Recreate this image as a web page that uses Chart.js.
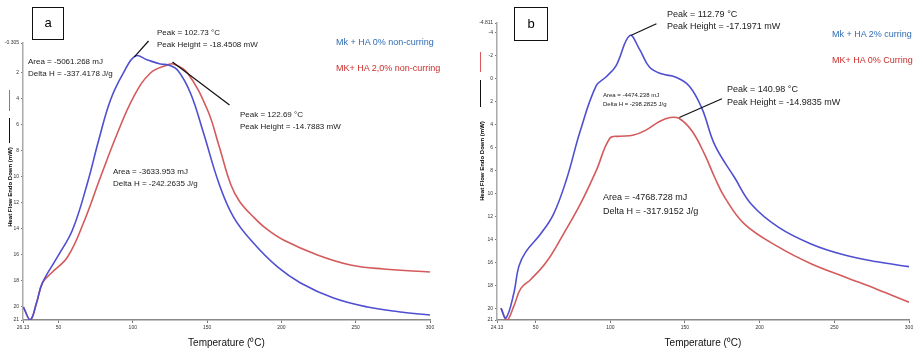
<!DOCTYPE html>
<html>
<head>
<meta charset="utf-8">
<script src="https://cdn.jsdelivr.net/npm/chart.js@4.4.0/dist/chart.umd.min.js"></script>
<style>
  body { margin: 0; background: #fff; width: 922px; height: 356px; overflow: hidden; font-family: "Liberation Sans", Arial, sans-serif; }
  .panel { position: absolute; top: 0; height: 356px; }
  .txt { position: absolute; white-space: nowrap; line-height: 1; color: #1a1a1a; }
  .box { position: absolute; border: 1px solid #111; font-size: 13px; text-align: center; }
  .ytitle { position: absolute; font-size: 6px; font-weight: bold; white-space: nowrap; transform: rotate(-90deg); transform-origin: center; }
  .mark { position: absolute; width: 1px; }
</style>
</head>
<body>
<div class="panel" style="left:0;width:460px"><canvas id="chartA"></canvas></div>
<div class="panel" style="left:460px;width:462px"><canvas id="chartB"></canvas></div>

<!-- panel a texts -->
<div class="box" style="left:32px;top:7px;width:30px;height:31px;line-height:30px">a</div>
<div class="mark" style="left:9px;top:90px;height:21px;background:#d9575a"></div>
<div class="mark" style="left:9px;top:118px;height:25px;background:#111"></div>
<div class="ytitle" style="left:-30px;top:184px;width:80px;text-align:center">Heat Flow Endo Down (mW)</div>
<div class="txt" style="left:157px;top:29px;font-size:8px">Peak = 102.73 °C</div>
<div class="txt" style="left:157px;top:41px;font-size:8px">Peak Height = -18.4508 mW</div>
<div class="txt" style="left:28px;top:58px;font-size:8px">Area = -5061.268 mJ</div>
<div class="txt" style="left:28px;top:70px;font-size:8px">Delta H = -337.4178 J/g</div>
<div class="txt" style="left:336px;top:38px;font-size:9px;color:#2e6db4">Mk + HA 0% non-curring</div>
<div class="txt" style="left:336px;top:64px;font-size:9px;color:#c9302c">MK+ HA 2,0% non-curring</div>
<div class="txt" style="left:240px;top:111px;font-size:8px">Peak = 122.69 °C</div>
<div class="txt" style="left:240px;top:123px;font-size:8px">Peak Height = -14.7883 mW</div>
<div class="txt" style="left:113px;top:168px;font-size:8px">Area = -3633.953 mJ</div>
<div class="txt" style="left:113px;top:180px;font-size:8px">Delta H = -242.2635 J/g</div>

<!-- panel b texts -->
<div class="box" style="left:514px;top:7px;width:32px;height:32px;line-height:31px">b</div>
<div class="mark" style="left:480px;top:52px;height:20px;background:#d9575a"></div>
<div class="mark" style="left:480px;top:80px;height:27px;background:#111"></div>
<div class="ytitle" style="left:442px;top:158px;width:80px;text-align:center">Heat Flow Endo Down (mW)</div>
<div class="txt" style="left:667px;top:10px;font-size:9px">Peak = 112.79 °C</div>
<div class="txt" style="left:667px;top:22px;font-size:9px">Peak Height = -17.1971 mW</div>
<div class="txt" style="left:832px;top:30px;font-size:9px;color:#2e6db4">Mk + HA 2% curring</div>
<div class="txt" style="left:832px;top:56px;font-size:9px;color:#c9302c">MK+ HA 0% Curring</div>
<div class="txt" style="left:603px;top:92px;font-size:6px">Area = -4474.238 mJ</div>
<div class="txt" style="left:603px;top:101px;font-size:6px">Delta H = -298.2825 J/g</div>
<div class="txt" style="left:727px;top:85px;font-size:9px">Peak = 140.98 °C</div>
<div class="txt" style="left:727px;top:98px;font-size:9px">Peak Height = -14.9835 mW</div>
<div class="txt" style="left:603px;top:193px;font-size:9px">Area = -4768.728 mJ</div>
<div class="txt" style="left:603px;top:207px;font-size:9px">Delta H = -317.9152 J/g</div>

<script>
// panel a: non-curring
const aBlueT = [26.4, 31.0, 35.2, 39.2, 49.3, 59.4, 69.5, 77.0, 85.0, 93.7, 101.8, 109.9, 118.6, 124.0, 130.1, 138.8, 147.6, 158.0, 167.8, 181.2, 197.4, 212.9, 235.1, 258.0, 280.1, 300];
const aBlueV = [20.0, 21.0, 19.7, 18.15, 16.15, 14.08, 10.46, 7.2, 4.08, 2.0, 0.69, 1.0, 1.31, 1.38, 1.77, 3.54, 6.62, 10.5, 13.08, 15.08, 16.92, 18.15, 19.31, 20.0, 20.38, 20.62];
const aRedT = [26.4, 31.0, 35.2, 39.2, 45.0, 56.1, 66.8, 78.3, 89.7, 100.5, 111.9, 123.4, 127.4, 136.8, 150.3, 158.0, 166.0, 172.0, 181.2, 190.0, 201.4, 224.3, 246.5, 268.7, 300];
const aRedV = [20.0, 21.0, 19.7, 18.15, 17.4, 16.15, 13.54, 10.0, 6.62, 3.85, 2.0, 1.38, 1.31, 2.0, 4.85, 7.6, 10.6, 11.9, 13.08, 14.0, 14.85, 16.0, 16.77, 17.08, 17.31];

// panel b: curring
const bBlueT = [26.8, 30.1, 35.4, 38.7, 43.4, 53.3, 61.9, 70.6, 79.8, 90.5, 97.1, 103.7, 113.0, 119.6, 126.3, 134.9, 143.5, 152.8, 161.4, 170.0, 183.3, 194.6, 212.5, 234.4, 256.2, 278.8, 300];
const bBlueV = [19.97, 20.83, 18.68, 16.36, 15.08, 13.53, 11.82, 8.81, 4.6, 0.66, -0.12, -1.06, -3.72, -2.52, -0.97, -0.37, -0.12, 0.66, 2.63, 5.81, 8.64, 10.96, 12.93, 14.39, 15.33, 15.94, 16.36];
const bRedT = [26.8, 30.8, 35.4, 40.1, 46.7, 57.3, 68.6, 79.8, 90.5, 99.7, 106.4, 115.0, 123.6, 132.9, 140.2, 146.2, 154.8, 163.4, 170.0, 176.7, 189.9, 212.5, 234.4, 256.2, 278.8, 300];
const bRedV = [19.97, 21.0, 19.8, 18.25, 17.48, 15.94, 13.53, 10.96, 8.04, 5.21, 5.03, 4.95, 4.52, 3.75, 3.40, 3.49, 4.6, 6.67, 8.64, 10.36, 12.67, 14.65, 16.11, 17.22, 18.34, 19.45];

// axis ticks
const aXTicks = [26.13, 50, 100, 150, 200, 250, 300];
const aYTicks = [-0.305, 2, 4, 6, 8, 10, 12, 14, 16, 18, 20, 21];
const bXTicks = [24.13, 50, 100, 150, 200, 250, 300];
const bYTicks = [-4.811, -4, -2, 0, 2, 4, 6, 8, 10, 12, 14, 16, 18, 20, 21];

// peak leader lines, in data units [T, value]
const aLeaders = [[[101.1, 0.77], [110.6, -0.46]], [[126.7, 1.15], [165.1, 4.46]]];
const bLeaders = [[[113.7, -3.72], [130.9, -4.75]], [[146.2, 3.4], [174.7, 1.77]]];

const BLUE = '#4f4fd2';
const RED = '#d45a5c';

function pts(t, v) {
  return t.map((x, i) => ({ x: x, y: v[i] }));
}

const leaderPlugin = {
  id: 'leaders',
  afterDatasetsDraw(chart, args, opts) {
    const ctx = chart.ctx;
    const xs = chart.scales.x, ys = chart.scales.y;
    ctx.save();
    ctx.strokeStyle = '#111';
    ctx.lineWidth = 1.2;
    opts.lines.forEach(l => {
      ctx.beginPath();
      ctx.moveTo(xs.getPixelForValue(l[0][0]), ys.getPixelForValue(l[0][1]));
      ctx.lineTo(xs.getPixelForValue(l[1][0]), ys.getPixelForValue(l[1][1]));
      ctx.stroke();
    });
    ctx.restore();
  }
};

function makeChart(id, s1, s2, xTicks, yTicks, leaders, pad, yWidth) {
  const tickFont = { family: 'Liberation Sans', size: 5 };
  new Chart(document.getElementById(id), {
    type: 'line',
    data: {
      datasets: [
        { data: s1, borderColor: BLUE, borderWidth: 1.6, pointRadius: 0, tension: 0.4, fill: false },
        { data: s2, borderColor: RED, borderWidth: 1.6, pointRadius: 0, tension: 0.4, fill: false }
      ]
    },
    options: {
      responsive: false,
      animation: false,
      events: [],
      layout: { padding: pad },
      plugins: { legend: { display: false }, tooltip: { enabled: false }, leaders: { lines: leaders } },
      scales: {
        x: {
          type: 'linear',
          min: xTicks[0],
          max: 300,
          afterBuildTicks: s => { s.ticks = xTicks.map(v => ({ value: v })); },
          afterFit: s => { s.height = 36; },
          ticks: { font: tickFont, color: '#333', padding: 2, callback: v => String(v), maxRotation: 0, autoSkip: false },
          grid: { drawOnChartArea: false, tickLength: 3, color: '#777' },
          border: { color: '#888', width: 1.5 },
          title: { display: true, text: 'Temperature (\u2070C)', font: { family: 'Liberation Sans', size: 10 }, color: '#111', padding: { top: 0, bottom: 7 } }
        },
        y: {
          reverse: true,
          min: yTicks[0],
          max: 21,
          afterBuildTicks: s => { s.ticks = yTicks.map(v => ({ value: v })); },
          afterFit: s => { s.width = yWidth; },
          ticks: { font: tickFont, color: '#333', padding: 2, callback: v => String(v), autoSkip: false },
          grid: { drawOnChartArea: false, tickLength: 2, color: '#777' },
          border: { color: '#aaa', width: 1.5 }
        }
      }
    },
    plugins: [leaderPlugin]
  });
}

document.getElementById('chartA').width = 460;
document.getElementById('chartA').height = 356;
document.getElementById('chartB').width = 462;
document.getElementById('chartB').height = 356;

makeChart('chartA', pts(aBlueT, aBlueV), pts(aRedT, aRedV), aXTicks, aYTicks, aLeaders,
  { top: 43, right: 30, left: 0, bottom: 0 }, 23);
makeChart('chartB', pts(bBlueT, bBlueV), pts(bRedT, bRedV), bXTicks, bYTicks, bLeaders,
  { top: 23, right: 13, left: 0, bottom: 0 }, 37);
</script>
</body>
</html>
